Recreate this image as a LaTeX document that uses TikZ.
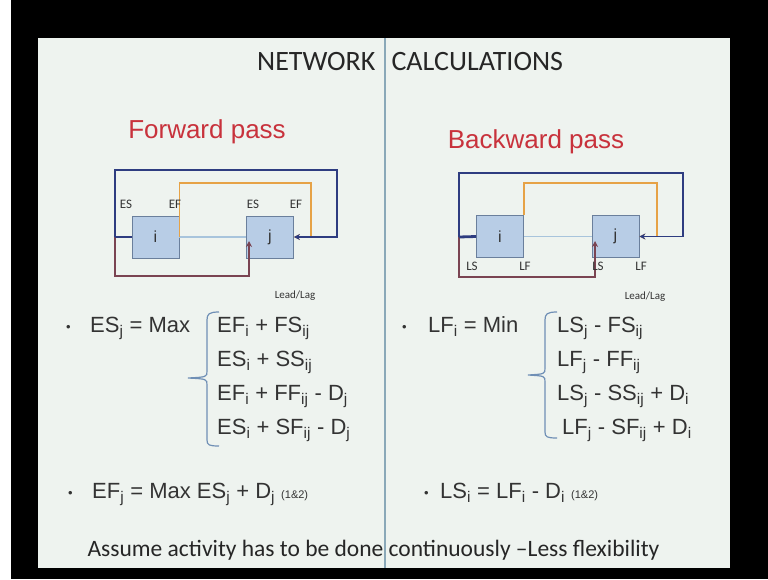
\documentclass[tikz,border=0pt]{standalone}
\usepackage{fontspec}
\setmainfont{Liberation Sans}
\newfontfamily\calib{Carlito}
\usetikzlibrary{arrows.meta,calc}
\definecolor{slidebg}{HTML}{EEF3EF}
\definecolor{sfcol}{HTML}{2E3C80}
\definecolor{ffcol}{HTML}{E6A246}
\definecolor{sscol}{HTML}{7A4452}
\definecolor{fscol}{HTML}{A8C4DC}
\definecolor{boxfill}{HTML}{B8CDE6}
\definecolor{boxedge}{HTML}{6A7F9C}
\definecolor{bracecol}{HTML}{6F8FB5}
\definecolor{eqcol}{HTML}{333333}
\definecolor{passred}{HTML}{C8323C}
\definecolor{divcol}{HTML}{8AA8B8}
\newcommand\subx[1]{\textsubscript{#1}}
\tikzset{
  actbox/.style={draw=boxedge,fill=boxfill,line width=0.8pt,minimum width=47pt,
    minimum height=42pt,inner sep=0pt,text=eqcol,font=\fontsize{16}{16}\selectfont},
  tag/.style={font=\calib\fontsize{13}{13}\selectfont,text=eqcol,inner sep=0pt},
  lagtag/.style={font=\calib\fontsize{11}{11}\selectfont,text=eqcol,inner sep=0pt},
  eq/.style={anchor=base west,inner sep=0pt,text=eqcol,font=\fontsize{22}{22}\selectfont},
  dot/.style={anchor=base west,inner sep=0pt,text=eqcol,font=\fontsize{13}{13}\selectfont},
  fsline/.style={draw=fscol,line width=1.2pt},
  ffline/.style={draw=ffcol,line width=1.6pt},
  sfline/.style={draw=sfcol,line width=1.8pt},
  ssline/.style={draw=sscol,line width=1.6pt},
  brace/.style={draw=bracecol,line width=1.2pt},
  >={Stealth[length=6pt,width=6pt]}
}
\begin{document}
\begin{tikzpicture}[x=1pt,y=-1pt]
  % frame and slide
  \fill[black] (0,0) rectangle (768,579);
  \fill[white] (0,0) rectangle (11,579);
  \fill[slidebg] (38,38) rectangle (730,568);
  \draw[divcol,line width=1.2pt] (385,38) -- (385,568);

  % titles
  \node[anchor=east,font=\calib\fontsize{28}{28}\selectfont,text=black!85] (netw) at (379,62) {NETWORK};
  \node[anchor=west,font=\calib\fontsize{28}{28}\selectfont,text=black!85] (calc) at (388,62) {CALCULATIONS};
  \node[font=\fontsize{26}{26}\selectfont,text=passred] (fwd) at (207,132) {Forward pass};
  \node[font=\fontsize{26}{26}\selectfont,text=passred] (bwd) at (536,142) {Backward pass};

  % forward pass diagram
  \node[actbox] (fi) at (155.5,237) {i};
  \node[actbox] (fj) at (270,237) {j};
  \coordinate (fl) at (115,237);
  \draw[fsline] (fi.east) -- (fj.west);
  \draw[ffline,->] (fi.east) |- (311,183) |- (fj.east);
  \draw[ssline,->] (fl) |- (249,276) -- (249,241);
  \draw[sfline,->] (fl) |- (337,170) |- (fj.east);
  \draw[sfline,line width=2.8pt] (fi.west) -- (fl);
  \node[tag] (fies) at (126,204) {ES};
  \node[tag] (fief) at (175,204) {EF};
  \node[tag] (fjes) at (253,204) {ES};
  \node[tag] (fjef) at (296,204) {EF};

  % backward pass diagram
  \node[actbox] (bi) at (500,236.5) {i};
  \node[actbox] (bj) at (615.5,236.5) {j};
  \coordinate (bl) at (459,237);
  \draw[fsline] (bi.east) -- (bj.west);
  \draw[ffline,->] (bi.north east) |- (657,183) |- (bj.east);
  \draw[ssline,->] (bl) |- (595,277) -- (595,241);
  \draw[sfline,->] (bl) |- (683,173) |- (bj.east);
  \draw[sfline,line width=2.8pt] (bi.west) -- (bl);
  \node[tag] (bils) at (472,266) {LS};
  \node[tag] (bilf) at (525,266) {LF};
  \node[tag] (bjls) at (598,266) {LS};
  \node[tag] (bjlf) at (641,266) {LF};

  % forward formulas
  \node[lagtag] (flag) at (295,296) {Lead/Lag};
  \node[dot] at (66,331) {•};
  \node[eq] (fmax) at (90,332) {ES\subx{j} = Max};
  \draw[brace] (219,312) .. controls (209,312) and (207,314) .. (207,320) -- (207,371)
    .. controls (207,377) .. (188,378) .. controls (207,379) .. (207,385) -- (207,440)
    .. controls (207,445) and (209,446) .. (219,446);
  \node[eq] (f1) at (217,332) {EF\subx{i} + FS\subx{ij}};
  \node[eq] (f2) at (217,366) {ES\subx{i} + SS\subx{ij}};
  \node[eq] (f3) at (217,400) {EF\subx{i} + FF\subx{ij} - D\subx{j}};
  \node[eq] (f4) at (217,434) {ES\subx{i} + SF\subx{ij} - D\subx{j}};
  \node[dot] at (68,497) {•};
  \node[eq] (fef) at (92,498)
    {EF\subx{j} = Max ES\subx{j} + D\subx{j} {\fontsize{11}{11}\selectfont (1\&2)}};

  % backward formulas
  \node[lagtag] (blag) at (645,297) {Lead/Lag};
  \node[dot] at (402,331) {•};
  \node[eq] (bmin) at (428,332) {LF\subx{i} = Min};
  \draw[brace] (557,312) .. controls (547,312) and (545,314) .. (545,320) -- (545,368)
    .. controls (545,374) .. (528,375) .. controls (545,376) .. (545,382) -- (545,432)
    .. controls (545,437) and (547,438) .. (557,438);
  \node[eq] (b1) at (557,332) {LS\subx{j} - FS\subx{ij}};
  \node[eq] (b2) at (557,366) {LF\subx{j} - FF\subx{ij}};
  \node[eq] (b3) at (557,400) {LS\subx{j} - SS\subx{ij} + D\subx{i}};
  \node[eq] (b4) at (562,434) {LF\subx{j} - SF\subx{ij} + D\subx{i}};
  \node[dot] at (424,497) {•};
  \node[eq] (bls) at (440,498)
    {LS\subx{i} = LF\subx{i} - D\subx{i} {\fontsize{11}{11}\selectfont (1\&2)}};

  % footer
  \node[font=\calib\fontsize{23.5}{23.5}\selectfont,text=black!85] (note) at (373.5,550)
    {Assume activity has to be done continuously –Less flexibility};
\end{tikzpicture}
\end{document}
